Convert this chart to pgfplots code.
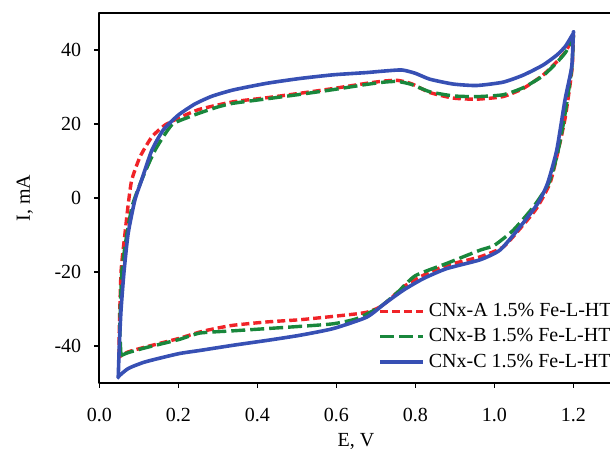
\documentclass[border=0pt]{standalone}
\usepackage{pgfplots}
\pgfplotsset{compat=1.18}
\usepackage{fontspec}
\setmainfont{Liberation Serif}

\definecolor{cvred}{RGB}{240,35,40}
\definecolor{cvgreen}{RGB}{25,135,60}
\definecolor{cvblue}{RGB}{55,80,180}

\begin{document}
\begin{tikzpicture}
\useasboundingbox (-49.65pt,-37.5pt) rectangle (255.35pt,191.5pt);
\clip (-49.65pt,-37.5pt) rectangle (255.35pt,191.5pt);
\begin{axis}[
    scale only axis,
    width=256.75pt, height=185pt,
    xmin=0, xmax=1.3, ymin=-50, ymax=50,
    xtick={0,0.2,0.4,0.6,0.8,1.0,1.2},
    ytick={-40,-20,0,20,40},
    xticklabel style={/pgf/number format/fixed, /pgf/number format/fixed zerofill,
        /pgf/number format/precision=1, yshift=-6.5pt},
    yticklabel style={xshift=-3pt},
    /pgf/number format/assume math mode=true,
    tick pos=left, tick align=outside,
    major tick length=2.5pt,
    tick style={black, line width=0.7pt},
    axis line style={black, line width=0.8pt},
    font=\fontsize{10pt}{12pt}\selectfont,
    xlabel={E, V},
    ylabel={I, mA},
    xlabel style={at={(axis description cs:0.5,-0.158)}, anchor=center},
    ylabel style={at={(axis description cs:-0.145,0.5)}, anchor=center},
    legend style={draw=none, fill=none, at={(axis cs:0.69,-26.2)}, anchor=north west,
        row sep=0.5pt, font=\fontsize{10pt}{12pt}\selectfont},
    legend cell align=left,
    legend image code/.code={\draw[#1] (0pt,0pt) -- (21.5pt,0pt);},
    line join=round,
]
% CNx-A
\addplot[cvred, line width=1.7pt, dash pattern=on 4pt off 2pt, smooth, tension=0.35] coordinates {
    (0.050,-43.0) (0.050,-38.0) (0.055,-20.0) (0.065,-9.6) (0.073,-1.9)
    (0.082,4.8) (0.103,11.1) (0.133,16.5) (0.166,19.7) (0.209,22.0)
    (0.255,24.0) (0.339,26.0) (0.424,27.1) (0.508,28.3) (0.593,29.6)
    (0.677,31.0) (0.720,31.6) (0.755,31.8) (0.790,30.9) (0.837,28.5)
    (0.896,27.0) (0.955,26.7) (1.022,27.4) (1.073,29.6) (1.123,33.2)
    (1.158,36.8) (1.180,39.5) (1.200,43.5) (1.200,43.5)
    (1.197,35.0) (1.180,22.0) (1.162,12.9) (1.141,4.0) (1.107,-2.8)
    (1.069,-7.8) (1.023,-13.2) (0.964,-15.9) (0.879,-18.2) (0.820,-20.9)
    (0.770,-24.0) (0.740,-27.0) (0.710,-29.5) (0.680,-30.8) (0.652,-31.3)
    (0.592,-32.0) (0.508,-32.9) (0.424,-33.5) (0.339,-34.4) (0.293,-35.3)
    (0.255,-36.2) (0.200,-38.0) (0.116,-40.3) (0.073,-41.6) (0.050,-43.0)
};
\addlegendentry{CNx-A 1.5\% Fe-L-HT}
% CNx-B
\addplot[cvgreen, line width=1.7pt, dash pattern=on 7pt off 2.5pt, smooth, tension=0.35] coordinates {
    (0.055,-42.6) (0.052,-35.0) (0.057,-20.0) (0.070,-9.6) (0.084,-1.9)
    (0.107,4.8) (0.141,12.9) (0.183,19.7) (0.225,21.8) (0.255,23.0)
    (0.300,24.6) (0.339,25.6) (0.424,26.8) (0.508,28.0) (0.593,29.3)
    (0.677,30.7) (0.720,31.3) (0.755,31.5) (0.790,30.7) (0.837,28.7)
    (0.896,27.6) (0.955,27.4) (1.022,27.9) (1.073,29.8) (1.123,33.0)
    (1.158,36.6) (1.180,39.3) (1.200,43.2) (1.200,43.2)
    (1.196,35.0) (1.178,22.0) (1.160,12.0) (1.138,4.0) (1.099,-2.4)
    (1.048,-8.7) (1.000,-12.8) (0.964,-14.1) (0.879,-17.7) (0.800,-21.0)
    (0.755,-25.5) (0.711,-29.4) (0.652,-32.6) (0.592,-34.0) (0.508,-34.7)
    (0.424,-35.3) (0.339,-35.9) (0.255,-36.5) (0.200,-38.3) (0.116,-40.5)
    (0.073,-41.8) (0.055,-42.6)
};
\addlegendentry{CNx-B 1.5\% Fe-L-HT}
% CNx-C
\addplot[cvblue, line width=1.8pt, smooth, tension=0.35] coordinates {
    (0.048,-48.3) (0.048,-48.3) (0.0506,-40.0) (0.055,-30.3) (0.0625,-20.0) (0.073,-9.6)
    (0.090,-0.6) (0.107,4.8) (0.133,12.9) (0.162,18.4) (0.200,22.4)
    (0.242,25.4) (0.285,27.5) (0.339,29.2) (0.424,31.0) (0.508,32.3)
    (0.593,33.3) (0.677,33.9) (0.720,34.3) (0.766,34.6) (0.800,33.7)
    (0.837,32.1) (0.896,30.8) (0.955,30.4) (1.022,31.3) (1.073,33.2)
    (1.123,35.9) (1.158,38.6) (1.180,41.0) (1.200,44.5) (1.200,44.5)
    (1.196,35.5) (1.179,26.5) (1.158,12.9) (1.135,4.0) (1.110,-1.5)
    (1.060,-8.5) (1.014,-14.1) (0.964,-16.7) (0.879,-19.1) (0.820,-21.8)
    (0.770,-24.9) (0.723,-28.5) (0.677,-32.2) (0.592,-35.3) (0.508,-37.1)
    (0.424,-38.5) (0.339,-39.8) (0.255,-41.2) (0.200,-42.1) (0.116,-44.3)
    (0.073,-46.1) (0.048,-48.3)
};
\addlegendentry{CNx-C 1.5\% Fe-L-HT}
\end{axis}
\end{tikzpicture}
\end{document}
